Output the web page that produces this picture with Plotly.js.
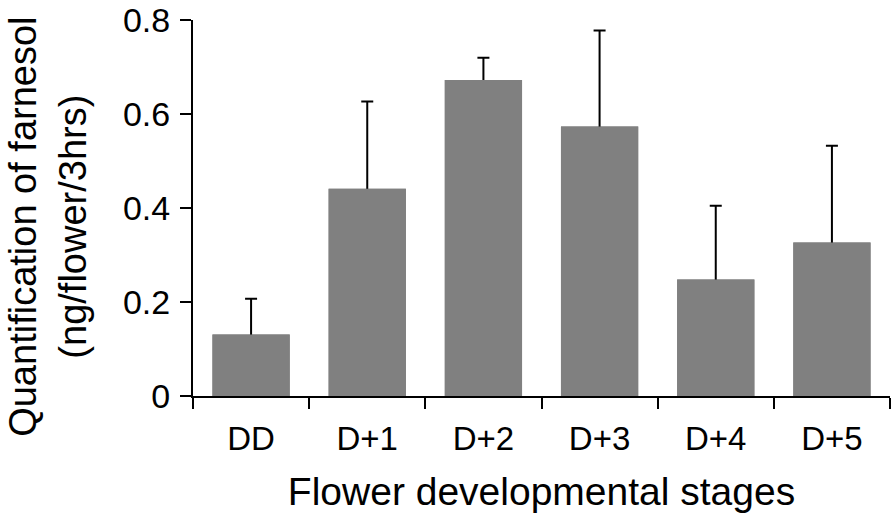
<!DOCTYPE html>
<html>
<head>
<meta charset="utf-8">
<script src="https://cdn.plot.ly/plotly-3.0.1.min.js"></script>
<style>
html,body{margin:0;padding:0;background:#fff;}
#chart{width:894px;height:519px;}
</style>
</head>
<body>
<div id="chart"></div>
<script>
const categories = ["DD", "D+1", "D+2", "D+3", "D+4", "D+5"];
const values = [0.131, 0.441, 0.673, 0.574, 0.248, 0.327];
const errors = [0.076, 0.186, 0.047, 0.204, 0.157, 0.206];
const yTicks = [0, 0.2, 0.4, 0.6, 0.8];
const yTickText = ["0", "0.2", "0.4", "0.6", "0.8"];
const xTitle = "Flower developmental stages";
const yTitle = "Quantification of farnesol<br>(ng/flower/3hrs)";

const barColor = "#808080";
const font = "Liberation Sans, Arial, Helvetica, sans-serif";

const traces = [
  {
    type: "bar", x: categories, y: values,
    marker: {color: barColor, line: {width: 0}},
    error_y: {type: "data", array: errors, visible: true, color: "#000", thickness: 2, width: 6},
    hoverinfo: "skip", showlegend: false
  },
  {
    type: "bar", x: categories, y: values,
    marker: {color: barColor, line: {width: 0}},
    hoverinfo: "skip", showlegend: false
  }
];

const layout = {
  width: 894, height: 519,
  margin: {l: 193, r: 4, t: 20, b: 123, pad: 0},
  paper_bgcolor: "#fff", plot_bgcolor: "#fff",
  barmode: "overlay",
  bargap: 0.335,
  font: {family: font, color: "#000", size: 33},
  showlegend: false,
  xaxis: {
    type: "category",
    categoryorder: "array", categoryarray: categories,
    range: [-0.5, 5.5],
    showline: true, linecolor: "#000", linewidth: 2,
    ticks: "outside", tickson: "boundaries", ticklen: 11, tickwidth: 2, tickcolor: "#000",
    tickfont: {size: 33, family: font, color: "#000"},
    ticklabelstandoff: 12,
    showgrid: false, zeroline: false,
    title: {text: xTitle, font: {size: 39, family: font, color: "#000"}, standoff: 22},
    automargin: false, fixedrange: true
  },
  xaxis2: {
    overlaying: "x", anchor: "y",
    range: [-0.5, 5.5],
    tickmode: "array", tickvals: [-0.5, 0.5, 1.5, 2.5, 3.5, 4.5, 5.5],
    ticks: "inside", ticklen: 11, tickwidth: 2, tickcolor: "#000",
    showticklabels: false, showline: false, showgrid: false, zeroline: false,
    fixedrange: true
  },
  yaxis: {
    range: [0, 0.8005],
    tickmode: "array", tickvals: yTicks, ticktext: yTickText,
    showline: true, linecolor: "#000", linewidth: 2,
    ticks: "outside", ticklen: 11, tickwidth: 2, tickcolor: "#000",
    tickfont: {size: 34, family: font, color: "#000"},
    ticklabelstandoff: 3,
    ticklabeloverflow: "allow",
    showgrid: false, zeroline: false,
    automargin: false, fixedrange: true
  },
  annotations: [{
    text: yTitle, textangle: -90,
    xref: "paper", yref: "paper", x: -0.208, y: 0.45,
    xanchor: "center", yanchor: "middle", showarrow: false,
    font: {size: 38, family: font, color: "#000"}
  }]
};

Plotly.newPlot("chart", traces, layout, {staticPlot: true, displayModeBar: false});
</script>
</body>
</html>
